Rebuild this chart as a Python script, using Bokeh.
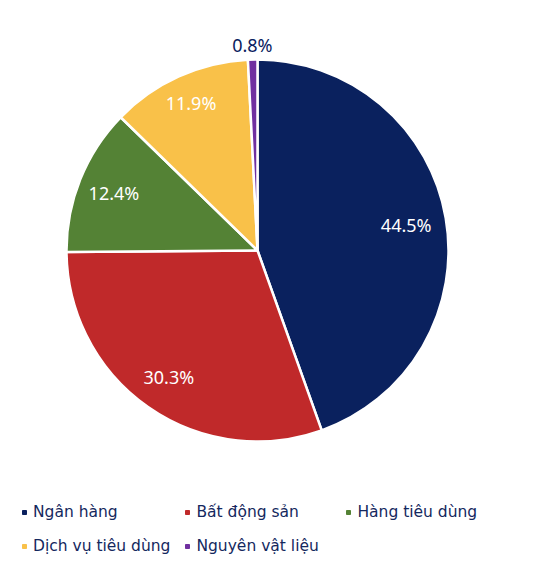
import math
from bokeh.plotting import figure
from bokeh.models import ColumnDataSource, Legend, LegendItem, Range1d
from bokeh.core.properties import value
from bokeh.embed import file_html
from bokeh.resources import INLINE

categories = ["Ngân hàng", "Bất động sản", "Hàng tiêu dùng", "Dịch vụ tiêu dùng", "Nguyên vật liệu"]
shares = [44.5, 30.3, 12.4, 11.9, 0.8]
labels = ["44.5%", "30.3%", "12.4%", "11.9%", "0.8%"]
colors = ["#0A215E", "#C0292A", "#548235", "#F9C149", "#7030A0"]
label_colors = ["white", "white", "white", "white", "#0A215E"]
label_radius = [0.79, 0.81, 0.81, 0.845, 1.075]

W, H = 522, 560
cx, cy, R = 257, 310, 191  # plot pixel space (y up)

total = sum(shares)
starts, ends, lx, ly = [], [], [], []
acc = 0.0
for s, lr in zip(shares, label_radius):
    a0 = math.pi / 2 - 2 * math.pi * acc / total
    a1 = math.pi / 2 - 2 * math.pi * (acc + s) / total
    starts.append(a0)
    ends.append(a1)
    mid = (a0 + a1) / 2
    lx.append(cx + lr * R * math.cos(mid))
    ly.append(cy + lr * R * math.sin(mid))
    acc += s

src = ColumnDataSource(dict(start=starts, end=ends, color=colors, cat=categories,
                            lx=lx, ly=ly, lab=labels, lcol=label_colors))

p = figure(width=W, height=H, output_backend="svg", toolbar_location=None,
           x_range=Range1d(0, W), y_range=Range1d(0, H), min_border=0)
p.axis.visible = False
p.grid.visible = False
p.outline_line_color = None

p.wedge(x=cx, y=cy, radius=R, start_angle="start", end_angle="end", direction="clock",
        fill_color="color", line_color="white", line_width=2.5, source=src)

p.text(x="lx", y="ly", text="lab", text_color="lcol", text_align="center",
       text_baseline="middle", text_font=value("Noto Sans"), text_font_size="18px", source=src)

# legend proxies (no visible data)
items = []
for c, col in zip(categories, colors):
    r = p.scatter(x=[float("nan")], y=[float("nan")], marker="square", size=6,
                  fill_color=col, line_color=col)
    items.append(LegendItem(label=c, renderers=[r]))

legend = Legend(items=items, orientation="horizontal", ncols=3,
                location=(19, 3), glyph_width=10, glyph_height=10, label_standoff=4,
                spacing=12, padding=0, margin=0, border_line_color=None,
                background_fill_alpha=0, label_text_font="DejaVu Sans",
                label_text_font_size="15.5px", label_text_color="#14285E",
                label_height=22, label_width=135)
p.add_layout(legend, "center")

open("out.html", "w").write(file_html(p, INLINE))
